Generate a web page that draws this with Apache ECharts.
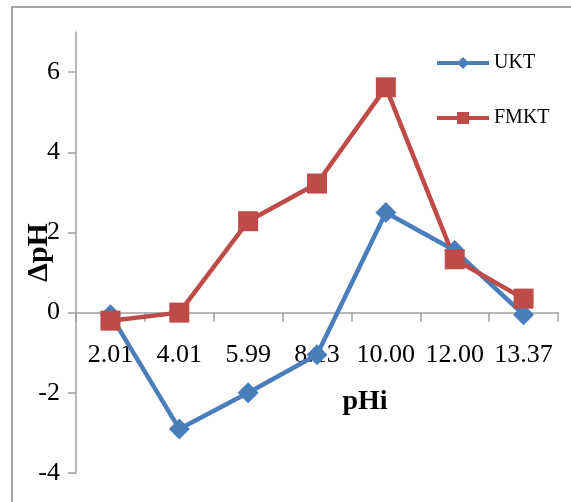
<!DOCTYPE html>
<html>
<head>
<meta charset="utf-8">
<script src="https://cdn.jsdelivr.net/npm/echarts@6/dist/echarts.min.js"></script>
<style>
  html, body { margin: 0; padding: 0; background: #fff; }
  #chart { width: 571px; height: 502px; }
</style>
</head>
<body>
<div id="chart"></div>
<script>
// pHi categories and the two ΔpH series
const categories = ['2.01', '4.01', '5.99', '8.13', '10.00', '12.00', '13.37'];
const ukt = [-0.05, -2.9, -2.0, -1.05, 2.5, 1.55, -0.05];
const fmkt = [-0.2, 0.0, 2.28, 3.22, 5.62, 1.33, 0.35];
const yTicks = [-4, -2, 0, 2, 4, 6];
const yMin = -4, yMax = 7;

const font = 'Liberation Serif, Times New Roman, serif';
const axisColor = '#a0a0a0';

const gridTop = 32, gridBottom = 29, H = 502;
const plotH = H - gridTop - gridBottom;
// x axis sits at y = 0, move the whole axis (labels and name too) up to there
const zeroOffset = -plotH * (0 - yMin) / (yMax - yMin);

const chart = echarts.init(document.getElementById('chart'));

chart.setOption({
  animation: false,
  backgroundColor: '#fff',
  graphic: [{
    type: 'rect',
    shape: { x: 12, y: 7, width: 620, height: 560 },
    style: { fill: 'none', stroke: '#a6a6a6', lineWidth: 2 },
    silent: true
  }],
  grid: { left: 76, right: 13, top: gridTop, bottom: gridBottom, containLabel: false, outerBoundsMode: 'none' },
  legend: {
    orient: 'vertical',
    left: 430,
    top: 48,
    itemWidth: 52,
    itemHeight: 15,
    itemGap: 35,
    lineStyle: { width: 4 },
    textStyle: { fontFamily: font, fontSize: 20, color: '#000' },
    data: ['UKT', 'FMKT']
  },
  xAxis: {
    type: 'category',
    data: categories,
    boundaryGap: true,
    offset: zeroOffset,
    axisLine: { onZero: false, lineStyle: { color: axisColor, width: 1.5 } },
    axisTick: { show: true, length: 9, interval: 0, lineStyle: { color: axisColor, width: 1.5 } },
    axisLabel: { interval: 0, margin: 30, color: '#000', fontFamily: font, fontSize: 26 },
    name: 'pHi',
    nameLocation: 'middle',
    nameGap: 75,
    nameMoveOverlap: false,
    nameTextStyle: { fontFamily: font, fontSize: 28, fontWeight: 'bold', color: '#000', padding: [0, 0, 0, 96] },
    splitLine: { show: false }
  },
  yAxis: {
    type: 'value',
    min: yMin,
    max: yMax,
    interval: 2,
    axisLine: { show: true, onZero: false, lineStyle: { color: axisColor, width: 1.5 } },
    axisTick: { show: true, length: 8, customValues: yTicks, lineStyle: { color: axisColor, width: 1.5 } },
    axisLabel: { customValues: yTicks, margin: 16, color: '#000', fontFamily: font, fontSize: 26 },
    splitLine: { show: false },
    name: 'ΔpH',
    nameLocation: 'middle',
    nameRotate: 90,
    nameGap: 22,
    nameMoveOverlap: false,
    nameTextStyle: { fontFamily: font, fontSize: 30, fontWeight: 'bold', color: '#000', backgroundColor: '#fff' }
  },
  series: [
    {
      name: 'UKT',
      type: 'line',
      data: ukt,
      symbol: 'diamond',
      symbolSize: 21,
      lineStyle: { color: '#4A7EBB', width: 4.5 },
      itemStyle: { color: '#4A7EBB' }
    },
    {
      name: 'FMKT',
      type: 'line',
      data: fmkt,
      symbol: 'rect',
      symbolSize: 20,
      lineStyle: { color: '#BE4B48', width: 4.5 },
      itemStyle: { color: '#BE4B48' }
    }
  ]
});
</script>
</body>
</html>
